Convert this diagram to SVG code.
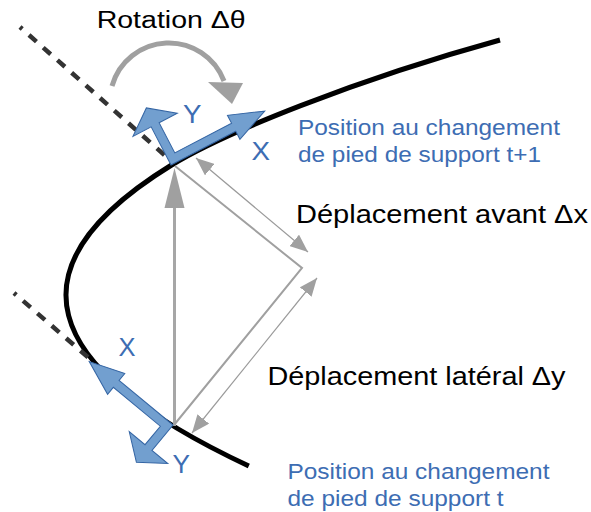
<svg xmlns="http://www.w3.org/2000/svg" width="591" height="512" viewBox="0 0 591 512">
  <style>
    .txt { font-family: "Liberation Sans", Arial, sans-serif; fill: #000; }
    .blue { fill: #3d6db3; }
    .frame { fill: #729fcf; stroke: #3465a4; stroke-width: 1; stroke-linejoin: miter; }
    .dash { fill: none; stroke: #333; stroke-width: 4.5; stroke-dasharray: 10 9; }
    .gray { fill: none; stroke: #a0a0a0; }
    .thin { fill: none; stroke: #9a9a9a; stroke-width: 1.2; marker-start: url(#h); marker-end: url(#h); }
  </style>
  <defs>
    <marker id="h" viewBox="0 0 18 15" refX="18" refY="7.5" markerWidth="15" markerHeight="12.5" orient="auto-start-reverse" markerUnits="strokeWidth">
      <path d="M0,0 L18,7.5 L0,15 Z" fill="#a0a0a0"/>
    </marker>
  </defs>

  <g id="trajectory">
    <path d="M 248.8 466 Q -73 315.5 171.6 165 C 222.7 133.6 355.4 79.8 500 40" fill="none" stroke="#000" stroke-width="5"/>
  </g>

  <g id="old-orientation">
    <path class="dash" d="M 20 27 L 170 160" stroke-dashoffset="7"/>
    <path class="dash" d="M 14 293 L 90 359" stroke-dashoffset="7"/>
  </g>

  <g id="connectors">
    <path class="gray" stroke-width="5" d="M 112 86 A 59 59 0 0 1 224 81"/>
    <polygon points="208,82 243,83 232,104" fill="#a0a0a0"/>
    <line x1="174.5" y1="426" x2="174.5" y2="205" stroke="#a6a6a6" stroke-width="3"/>
    <polygon points="174.5,168 164.5,208 184.5,208" fill="#a0a0a0"/>
    <polyline class="gray" stroke-width="2" points="175,166 302,268 174,425"/>
    <line class="thin" x1="196" y1="158" x2="308" y2="252"/>
    <line class="thin" x1="317" y1="278" x2="192" y2="433"/>
  </g>

  <g id="frame-t1">
    <polygon class="frame" transform="translate(171,165) rotate(-27.5)" points="0,0 73,0 73,9 108,-4.5 73,-18 73,-9 9,-9 9,-43 29.5,-43 4.5,-62 -20.5,-43 0,-43"/>
    <text class="txt blue" x="183" y="122.5" font-size="26" textLength="18.5" lengthAdjust="spacingAndGlyphs">Y</text>
    <text class="txt blue" x="251.5" y="160" font-size="26" textLength="18.5" lengthAdjust="spacingAndGlyphs">X</text>
  </g>

  <g id="frame-t">
    <polygon class="frame" transform="translate(173,425) rotate(-140.4)" points="0,0 70,0 70,9 105,-4.5 70,-18 70,-9 9,-9 9,-33 29.5,-33 4.5,-52 -20.5,-33 0,-33"/>
    <text class="txt blue" x="118.5" y="356" font-size="26" textLength="17" lengthAdjust="spacingAndGlyphs">X</text>
    <text class="txt blue" x="172.5" y="473" font-size="26" textLength="17.5" lengthAdjust="spacingAndGlyphs">Y</text>
  </g>

  <g id="label-rotation">
    <text class="txt" x="96.7" y="28" font-size="23" textLength="149" lengthAdjust="spacingAndGlyphs">Rotation Δθ</text>
  </g>
  <g id="label-t1">
    <text class="txt blue" x="298" y="135" font-size="22" textLength="262" lengthAdjust="spacingAndGlyphs">Position au changement</text>
    <text class="txt blue" x="298" y="161.5" font-size="22" textLength="243" lengthAdjust="spacingAndGlyphs">de pied de support t+1</text>
  </g>
  <g id="label-dx">
    <text class="txt" x="296" y="223" font-size="25" textLength="292" lengthAdjust="spacingAndGlyphs">Déplacement avant Δx</text>
  </g>
  <g id="label-dy">
    <text class="txt" x="267.5" y="385" font-size="25" textLength="298" lengthAdjust="spacingAndGlyphs">Déplacement latéral Δy</text>
  </g>
  <g id="label-t">
    <text class="txt blue" x="287.5" y="479" font-size="22" textLength="262" lengthAdjust="spacingAndGlyphs">Position au changement</text>
    <text class="txt blue" x="287.5" y="505.5" font-size="22" textLength="216" lengthAdjust="spacingAndGlyphs">de pied de support t</text>
  </g>
</svg>
